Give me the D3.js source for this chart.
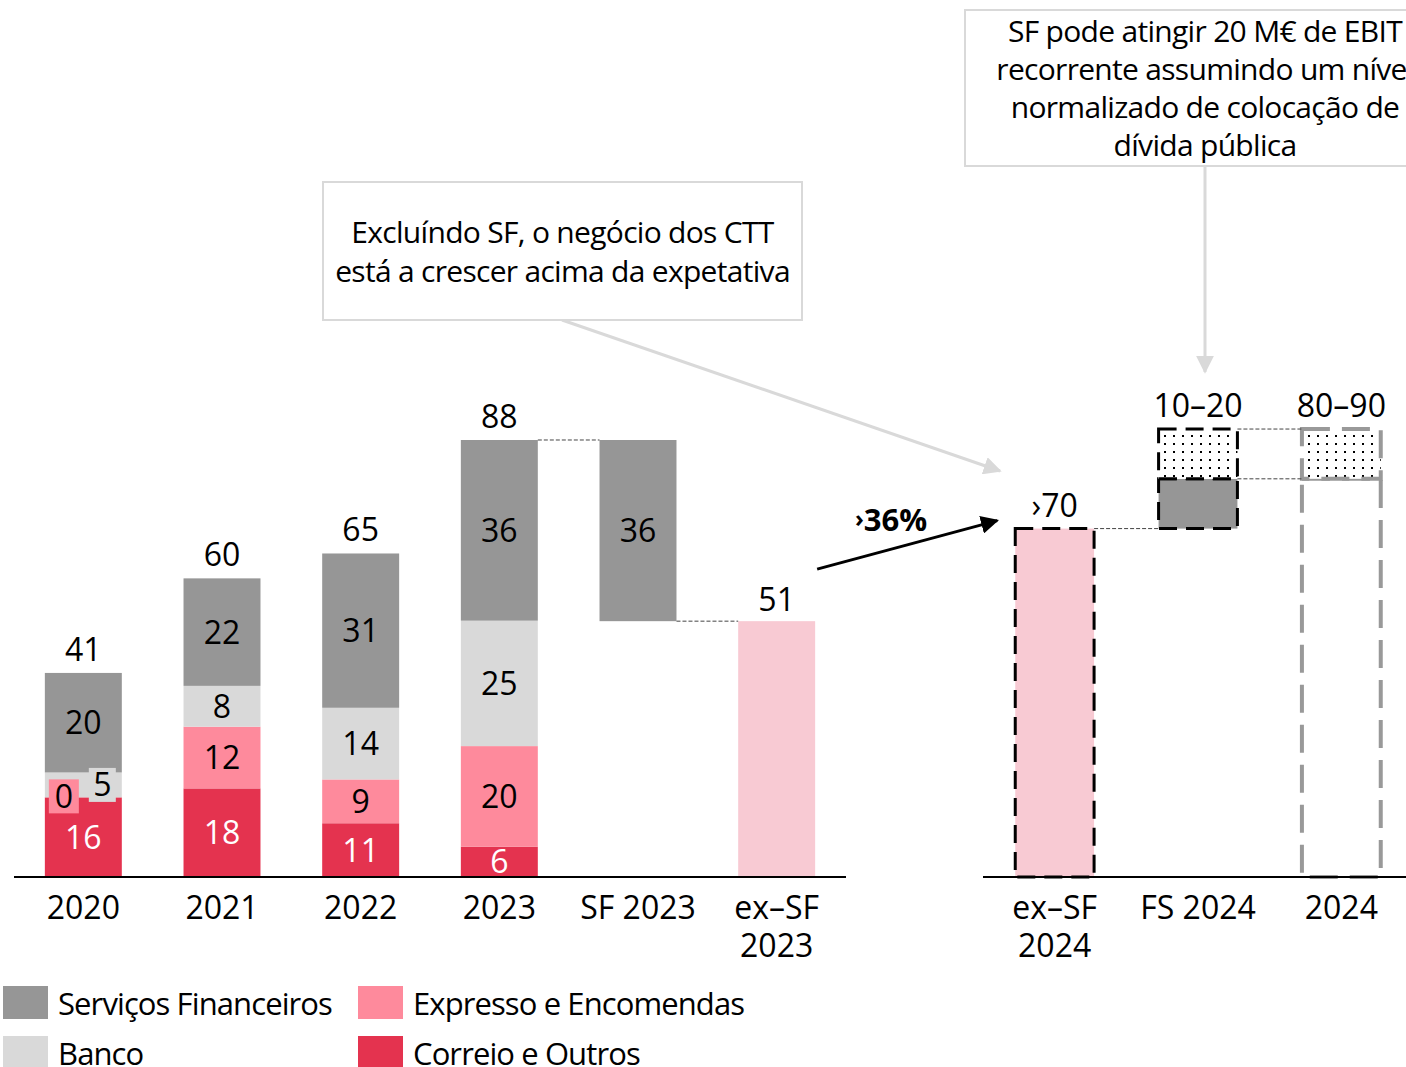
<!DOCTYPE html>
<html>
<head>
<meta charset="utf-8">
<script src="https://cdn.jsdelivr.net/npm/d3@7"></script>
<style>
  body { margin: 0; background: #fff; }
  svg { display: block; font-family: 'Open Sans', sans-serif; }
</style>
</head>
<body>
<svg id="chart" width="1406" height="1067"></svg>
<script>
// values (M€)
const years = ['2020', '2021', '2022', '2023'];
const correio = [16, 17.8, 10.8, 6.1];
const expresso = [0, 12.4, 8.8, 20.2];
const banco = [5, 8.2, 14.4, 25.2];
const servicos = [20, 21.6, 31, 36.3];
const sf2023 = 36.4;
const exSf2023 = 51.4;
const leftCategories = ['2020', '2021', '2022', '2023', 'SF 2023', 'ex–SF 2023'];

const rightCategories = ['ex–SF 2024', 'FS 2024', '2024'];
const exSf2024 = 70;
const fs2024 = [10, 20];
const total2024 = [80, 90];
const rightLabels = ['›70', '10–20', '80–90'];
const growthLabel = '36%';

const seriesKeys = ['correio', 'expresso', 'banco', 'servicos'];
const seriesNames = {
  servicos: 'Serviços Financeiros',
  expresso: 'Expresso e Encomendas',
  banco: 'Banco',
  correio: 'Correio e Outros'
};
const colors = {
  servicos: '#969696',
  banco: '#d9d9d9',
  expresso: '#fe8a9c',
  correio: '#e4334f'
};
const EXSF_COLOR = '#f8cad3';
const FONT_NUM = 32;

const svg = d3.select('#chart');
const baseline = 877;

const yScale = d3.scaleLinear().domain([0, 88]).range([baseline, 439]);
const xLeft = d3.scaleBand(leftCategories, [14, 846]).paddingInner(0.445).paddingOuter(0.2225);
const xRight = d3.scaleBand(rightCategories, [983, 1413]).paddingInner(0.45).paddingOuter(0.225);

const fmt = d3.format('.0f');

/* patterns and markers */
const defs = svg.append('defs');
const pat = defs
  .append('pattern')
  .attr('id', 'dots')
  .attr('patternUnits', 'userSpaceOnUse')
  .attr('width', 9)
  .attr('height', 8);
pat.append('rect').attr('width', 9).attr('height', 8).attr('fill', '#fff');
pat.append('rect').attr('x', 3).attr('y', 3).attr('width', 2).attr('height', 2).attr('fill', '#000');

function arrowMarker(id, color) {
  defs
    .append('marker')
    .attr('id', id)
    .attr('viewBox', '0 0 10 10')
    .attr('refX', 9)
    .attr('refY', 5)
    .attr('markerWidth', 6)
    .attr('markerHeight', 6)
    .attr('markerUnits', 'strokeWidth')
    .attr('orient', 'auto')
    .append('path')
    .attr('d', 'M0,0 L10,5 L0,10 Z')
    .attr('fill', color);
}
arrowMarker('arrow-black', '#000');
arrowMarker('arrow-gray', '#d9d9d9');

/* stacked bars 2020-2023 */
const rows = years.map((year, i) => ({
  year: year,
  correio: correio[i],
  expresso: expresso[i],
  banco: banco[i],
  servicos: servicos[i]
}));
const stacked = d3.stack().keys(seriesKeys)(rows);

const bw = xLeft.bandwidth();

const layers = svg
  .append('g')
  .selectAll('.layer')
  .data(stacked)
  .enter()
  .append('g')
  .attr('class', 'layer')
  .attr('fill', (d) => colors[d.key]);

layers
  .selectAll('rect')
  .data((d) => d)
  .enter()
  .append('rect')
  .attr('x', (d) => xLeft(d.data.year))
  .attr('y', (d) => yScale(d[1]))
  .attr('width', bw)
  .attr('height', (d) => yScale(d[0]) - yScale(d[1]));

/* segment labels */
stacked.forEach(function (layer) {
  layer.forEach(function (d) {
    const x0 = xLeft(d.data.year);
    const h = yScale(d[0]) - yScale(d[1]);
    const value = d[1] - d[0];
    const txtColor = layer.key === 'correio' ? '#fff' : '#000';
    let cx = x0 + bw / 2;
    let cy = (yScale(d[0]) + yScale(d[1])) / 2;

    if (h < 28) {
      // small segment: label sits on a little badge
      const bwid = layer.key === 'expresso' ? 30 : 27;
      const bx = layer.key === 'expresso' ? x0 + 4 : x0 + bw - 6 - bwid;
      if (layer.key === 'expresso') cy = yScale(d[0]) - 1;
      svg
        .append('rect')
        .attr('x', bx)
        .attr('y', cy - 17)
        .attr('width', bwid)
        .attr('height', 34)
        .attr('fill', colors[layer.key]);
      cx = bx + bwid / 2;
    }

    svg
      .append('text')
      .attr('x', cx)
      .attr('y', cy)
      .attr('dy', '0.36em')
      .attr('text-anchor', 'middle')
      .attr('font-size', FONT_NUM)
      .attr('fill', txtColor)
      .text(fmt(value));
  });
});

/* totals */
rows.forEach(function (r) {
  const total = d3.sum(seriesKeys, (k) => r[k]);
  svg
    .append('text')
    .attr('x', xLeft(r.year) + bw / 2)
    .attr('y', yScale(total) - 12)
    .attr('text-anchor', 'middle')
    .attr('font-size', FONT_NUM)
    .text(fmt(total));
});

/* SF 2023 floating bar and ex-SF 2023 */
const top2023 = d3.sum(seriesKeys, (k) => rows[3][k]);
svg
  .append('rect')
  .attr('x', xLeft('SF 2023'))
  .attr('y', yScale(exSf2023 + sf2023))
  .attr('width', bw)
  .attr('height', yScale(exSf2023) - yScale(exSf2023 + sf2023))
  .attr('fill', colors.servicos);
svg
  .append('text')
  .attr('x', xLeft('SF 2023') + bw / 2)
  .attr('y', yScale(exSf2023 + sf2023 / 2))
  .attr('dy', '0.36em')
  .attr('text-anchor', 'middle')
  .attr('font-size', FONT_NUM)
  .text(fmt(sf2023));

svg
  .append('rect')
  .attr('x', xLeft('ex–SF 2023'))
  .attr('y', yScale(exSf2023))
  .attr('width', bw)
  .attr('height', baseline - yScale(exSf2023))
  .attr('fill', EXSF_COLOR);
svg
  .append('text')
  .attr('x', xLeft('ex–SF 2023') + bw / 2)
  .attr('y', yScale(exSf2023) - 10)
  .attr('text-anchor', 'middle')
  .attr('font-size', FONT_NUM)
  .text(fmt(exSf2023));

/* connectors */
function connector(x1, x2, y) {
  svg
    .append('line')
    .attr('x1', x1)
    .attr('x2', x2)
    .attr('y1', y)
    .attr('y2', y)
    .attr('stroke', '#444')
    .attr('stroke-width', 1)
    .attr('stroke-dasharray', '4 2');
}
connector(xLeft('2023') + bw, xLeft('SF 2023'), yScale(top2023));
connector(xLeft('SF 2023') + bw, xLeft('ex–SF 2023'), yScale(exSf2023));

/* right panel */
const rw = xRight.bandwidth();

svg
  .append('rect')
  .attr('x', xRight('ex–SF 2024'))
  .attr('y', yScale(exSf2024))
  .attr('width', rw)
  .attr('height', baseline - yScale(exSf2024))
  .attr('fill', EXSF_COLOR)
  .attr('stroke', '#000')
  .attr('stroke-width', 3)
  .attr('stroke-dasharray', '18 9');

svg
  .append('rect')
  .attr('x', xRight('FS 2024'))
  .attr('y', yScale(exSf2024 + fs2024[0]))
  .attr('width', rw)
  .attr('height', yScale(exSf2024) - yScale(exSf2024 + fs2024[0]))
  .attr('fill', colors.servicos)
  .attr('stroke', '#000')
  .attr('stroke-width', 3)
  .attr('stroke-dasharray', '18 9');
svg
  .append('rect')
  .attr('x', xRight('FS 2024'))
  .attr('y', yScale(exSf2024 + fs2024[1]))
  .attr('width', rw)
  .attr('height', yScale(exSf2024 + fs2024[0]) - yScale(exSf2024 + fs2024[1]))
  .attr('fill', 'url(#dots)')
  .attr('stroke', '#000')
  .attr('stroke-width', 3)
  .attr('stroke-dasharray', '18 9');

svg
  .append('rect')
  .attr('x', xRight('2024'))
  .attr('y', yScale(total2024[0]))
  .attr('width', rw)
  .attr('height', baseline - yScale(total2024[0]))
  .attr('fill', '#fff')
  .attr('stroke', '#999')
  .attr('stroke-width', 4)
  .attr('stroke-dasharray', '28 12');
svg
  .append('rect')
  .attr('x', xRight('2024'))
  .attr('y', yScale(total2024[1]))
  .attr('width', rw)
  .attr('height', yScale(total2024[0]) - yScale(total2024[1]))
  .attr('fill', 'url(#dots)')
  .attr('stroke', '#999')
  .attr('stroke-width', 4)
  .attr('stroke-dasharray', '28 12');

const rightTops = [exSf2024, exSf2024 + fs2024[1], total2024[1]];
rightCategories.forEach(function (c, i) {
  svg
    .append('text')
    .attr('x', xRight(c) + rw / 2)
    .attr('y', yScale(rightTops[i]) - 12)
    .attr('text-anchor', 'middle')
    .attr('font-size', FONT_NUM)
    .text(rightLabels[i]);
});

connector(xRight('ex–SF 2024') + rw, xRight('FS 2024'), yScale(exSf2024));
connector(xRight('FS 2024') + rw, xRight('2024'), yScale(total2024[0]));
connector(xRight('FS 2024') + rw, xRight('2024'), yScale(total2024[1]));

/* axes */
function drawAxis(scale, x2) {
  const axis = d3.axisBottom(scale).tickSize(0).tickPadding(0);
  const g = svg
    .append('g')
    .attr('transform', `translate(0, ${baseline})`)
    .call(axis);
  g.select('.domain').attr('stroke-width', 2).attr('d', `M${scale.range()[0]},0H${x2}`);
  g.selectAll('.tick text')
    .attr('font-size', FONT_NUM)
    .attr('font-family', "'Open Sans', sans-serif")
    .attr('fill', '#000')
    .attr('dy', null)
    .attr('y', 0)
    .each(function (d) {
      const t = d3.select(this).text('');
      const parts = d.startsWith('ex–') ? d.split(' ') : [d];
      parts.forEach(function (p, j) {
        t.append('tspan').attr('x', 0).attr('y', 42 + j * 38).text(p);
      });
    });
}
drawAxis(xLeft, 846);
drawAxis(xRight, 1406);

/* growth arrow */
const ax1 = xLeft('ex–SF 2023') + bw + 2;
const ay1 = yScale(exSf2023) - 52;
const ax2 = xRight('ex–SF 2024') - 18;
const ay2 = yScale(exSf2024) - 8;
svg
  .append('line')
  .attr('x1', ax1)
  .attr('y1', ay1)
  .attr('x2', ax2)
  .attr('y2', ay2)
  .attr('stroke', '#000')
  .attr('stroke-width', 3)
  .attr('marker-end', 'url(#arrow-black)');
const gl = svg
  .append('text')
  .attr('x', 891)
  .attr('y', 531)
  .attr('text-anchor', 'middle')
  .attr('font-size', 31)
  .attr('font-weight', 'bold');
gl.append('tspan').attr('font-size', 24).attr('dy', -4).text('›');
gl.append('tspan').attr('dy', 4).text(growthLabel);

/* annotation boxes */
function noteBox(x, y, w, h, lines, ty, lh) {
  svg
    .append('rect')
    .attr('x', x)
    .attr('y', y)
    .attr('width', w)
    .attr('height', h)
    .attr('fill', '#fff')
    .attr('stroke', '#d9d9d9')
    .attr('stroke-width', 2);
  lines.forEach(function (l, i) {
    svg
      .append('text')
      .attr('x', x + w / 2)
      .attr('y', ty + i * lh)
      .attr('text-anchor', 'middle')
      .attr('font-size', 30)
      .attr('letter-spacing', -0.7)
      .text(l);
  });
}

svg
  .append('line')
  .attr('x1', 562)
  .attr('y1', 320)
  .attr('x2', 1000)
  .attr('y2', 471)
  .attr('stroke', '#d9d9d9')
  .attr('stroke-width', 3)
  .attr('marker-end', 'url(#arrow-gray)');
svg
  .append('line')
  .attr('x1', 1205)
  .attr('y1', 166)
  .attr('x2', 1205)
  .attr('y2', 372)
  .attr('stroke', '#d9d9d9')
  .attr('stroke-width', 3)
  .attr('marker-end', 'url(#arrow-gray)');

noteBox(323, 182, 479, 138,
  ['Excluíndo SF, o negócio dos CTT', 'está a crescer acima da expetativa'], 243, 39);
noteBox(965, 10, 480, 156,
  ['SF pode atingir 20 M€ de EBIT', 'recorrente  assumindo um nível', 'normalizado de colocação de', 'dívida pública'], 42, 38);

/* legend */
const legendOrder = ['servicos', 'expresso', 'banco', 'correio'];
const legend = svg
  .append('g')
  .selectAll('.legend-item')
  .data(legendOrder)
  .enter()
  .append('g')
  .attr('class', 'legend-item')
  .attr('transform', (d, i) => `translate(${[3, 358][i % 2]}, ${[986, 1036][Math.floor(i / 2)]})`);
legend
  .append('rect')
  .attr('width', 45)
  .attr('height', 33)
  .attr('fill', (d) => colors[d]);
legend
  .append('text')
  .attr('x', 55)
  .attr('y', 29)
  .attr('font-size', 31)
  .attr('letter-spacing', -0.9)
  .text((d) => seriesNames[d]);
</script>
</body>
</html>
